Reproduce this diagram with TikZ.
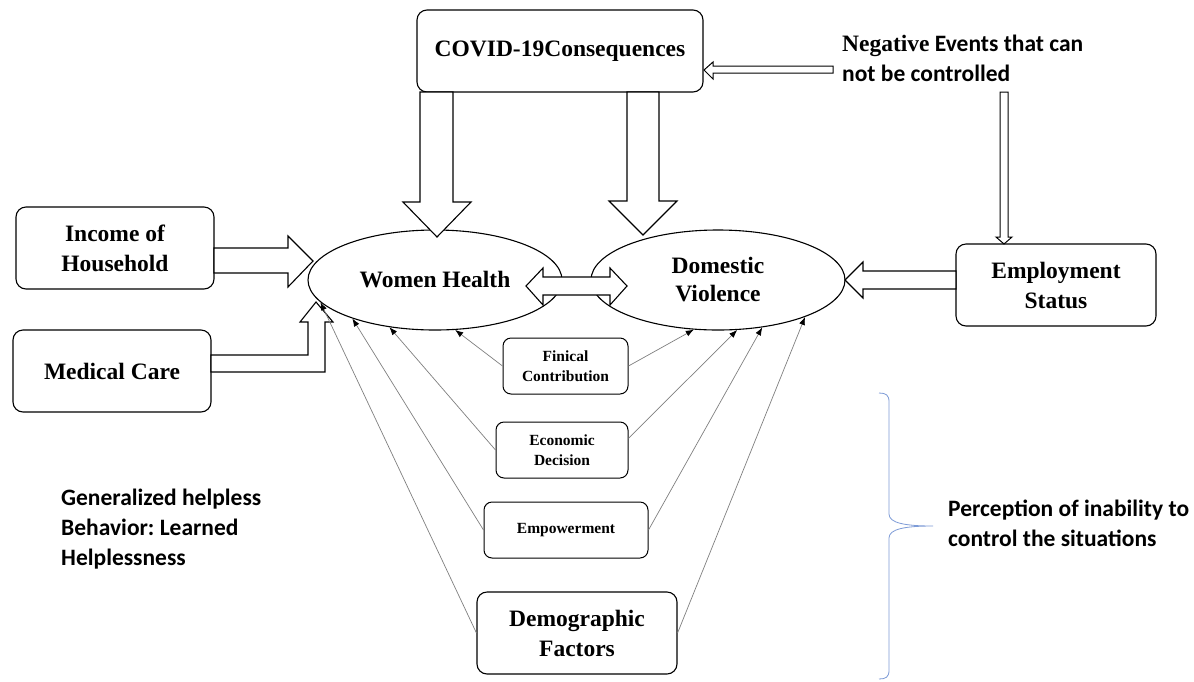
\documentclass[tikz,border=0pt]{standalone}
\usepackage{fontspec}
\setmainfont{Liberation Serif}
\newfontfamily\calfont{Carlito}
\usetikzlibrary{arrows.meta,calc,shapes.geometric}
\definecolor{bracecol}{RGB}{125,155,215}
\frenchspacing
\begin{document}
\begin{tikzpicture}[x=1pt,y=-1pt,
 box/.style={draw,line width=1.1pt,rounded corners=10pt,align=center,inner sep=0pt,font=\bfseries\fontsize{23.5}{30}\selectfont},
 sbox/.style={draw,line width=1pt,rounded corners=8pt,align=center,inner sep=0pt,font=\bfseries\fontsize{15.5}{20}\selectfont},
 ell/.style={draw,ellipse,line width=1.1pt,minimum width=254pt,minimum height=100pt,inner sep=0pt,align=center,font=\bfseries\fontsize{23.5}{28}\selectfont},
 block/.style={draw,fill=white,line width=1.1pt,line join=miter},
 thinarr/.style={draw=gray,line width=0.7pt,-{Latex[black,length=8pt,width=6pt]}},
 note/.style={align=left,anchor=west,inner sep=0pt,font=\calfont\bfseries\fontsize{23.5}{30}\selectfont}
]
\fill[white] (0,0) rectangle (1194,681);
\useasboundingbox (0,0) rectangle (1194,681);

% nodes
\node[box,minimum width=286pt,minimum height=82pt] (covid) at (560,51) {COVID-19Consequences};
\node[box,minimum width=198pt,minimum height=82pt] (inc) at (115,248) {Income of\\Household};
\node[box,minimum width=198pt,minimum height=82pt] (med) at (112,371) {Medical Care};
\node[box,minimum width=200pt,minimum height=82pt] (emp) at (1056,285) {Employment\\Status};
\node[ell,fill=white] (wh) at (435,280) {Women Health};
\node[ell,fill=white] (dv) at (718,280) {Domestic\\Violence};
\node[sbox,minimum width=125pt,minimum height=56pt] (fin) at (565.5,366) {Finical\\Contribution};
\node[sbox,minimum width=132pt,minimum height=56pt] (eco) at (562,450) {Economic\\Decision};
\node[sbox,minimum width=164pt,minimum height=56pt] (empw) at (566,530) {Empowerment};
\node[box,minimum width=200pt,minimum height=82pt] (demo) at (577,633) {Demographic\\Factors};

\node[note] (neg) at (842,58) {{\rmfamily\fontsize{23.5}{30}\selectfont Negative} Events that can\\not be controlled};
\node[note] (perc) at (948,523) {Perception of inability to\\control the situations};
\node[note] (gen) at (61,529) {Generalized helpless\\Behavior: Learned\\Helplessness};

% block arrows
\draw[block] (420,92) -- (420,202) -- (403,202) -- (437,237) -- (471,202) -- (453,202) -- (453,92) -- cycle;
\draw[block] (627,92) -- (627,201) -- (609,201) -- (643,235) -- (677,201) -- (659,201) -- (659,92) -- cycle;
\draw[block,line width=1pt] (833,66) -- (713,66) -- (713,62) -- (704,70) -- (713,79) -- (713,73) -- (833,73) -- cycle;
\draw[block,line width=1pt] (1000,92) -- (1000,237) -- (996,237) -- (1004,244) -- (1012,237) -- (1008,237) -- (1008,92) -- cycle;
\draw[block] (956,271) -- (863,271) -- (863,262) -- (845,280) -- (863,298) -- (863,289) -- (956,289) -- cycle;
\draw[block] (214,248) -- (288,248) -- (288,236) -- (313,261) -- (288,287) -- (288,273) -- (214,273) -- cycle;
\draw[block] (211,355) -- (308,355) -- (308,322) -- (300,322) -- (316,302) -- (333,322) -- (325,322) -- (325,372) -- (211,372) -- cycle;
\draw[block] (526,286) -- (543,268) -- (543,277) -- (610,277) -- (610,268) -- (627,286) -- (610,305) -- (610,295) -- (543,295) -- (543,305) -- cycle;

% thin arrows
\draw[thinarr] (fin.west) -- (wh.292);
\draw[thinarr] (eco.west) -- (wh.226);
\draw[thinarr] (empw.west) -- (wh.205);
\draw[thinarr] (demo.west) -- (wh.191);
\draw[thinarr] (fin.east) -- (dv.244);
\draw[thinarr] (eco.10) -- (dv.291);
\draw[thinarr] (empw.east) -- (dv.313);
\draw[thinarr] (demo.east) -- (dv.337);

% brace
\draw[bracecol,line width=0.8pt] (879,393) .. controls (886,393) and (889,395) .. (889,402) -- (889,514)
  .. controls (889,523) and (905,526) .. (933,526)
  .. controls (905,526) and (889,529) .. (889,538) -- (889,670)
  .. controls (889,677) and (886,679) .. (879,679);
\end{tikzpicture}
\end{document}
